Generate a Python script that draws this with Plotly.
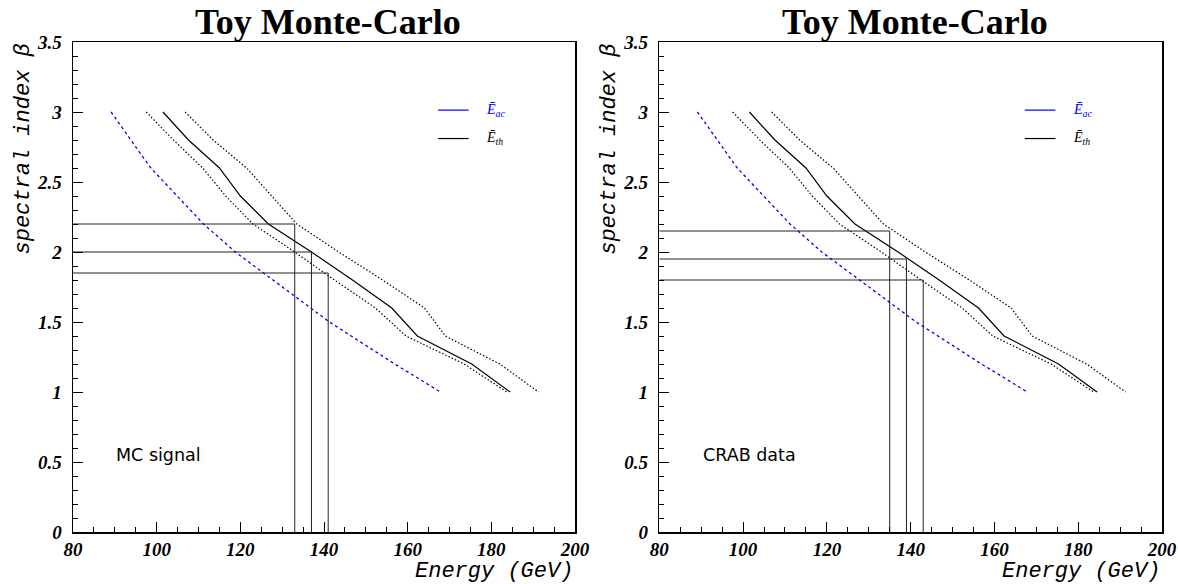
import plotly.graph_objects as go

# ---- data ----
beta_th = [3.0, 2.8, 2.6, 2.4, 2.2, 2.0, 1.8, 1.6, 1.4, 1.2, 1.0]
E_th = [101.5, 107.6, 115.0, 120.0, 126.7, 137.0, 146.8, 156.2, 162.3, 175.3, 184.5]
E_th_low = [97.5, 104.0, 111.0, 116.5, 123.0, 133.0, 142.5, 152.3, 159.6, 173.5, 183.7]
E_th_high = [106.8, 113.5, 121.5, 127.5, 133.5, 143.5, 154.0, 164.0, 169.0, 182.0, 191.3]

beta_ac = [3.0, 2.9, 2.8, 2.7, 2.6, 2.5, 2.4, 2.3, 2.2, 2.1, 2.0,
           1.9, 1.8, 1.7, 1.6, 1.5, 1.4, 1.3, 1.2, 1.1, 1.0]
E_ac = [89.1, 91.4, 93.8, 96.2, 98.6, 101.8, 105.0, 108.1, 111.2, 115.0, 118.8,
        123.3, 127.7, 132.3, 136.8, 141.3, 146.5, 151.6, 156.9, 162.4, 167.8]

mc_cut_E = [133.0, 137.0, 141.0]
mc_cut_beta = [2.2, 2.0, 1.85]
crab_cut_E = [135.0, 139.0, 143.0]
crab_cut_beta = [2.15, 1.95, 1.8]

panel_titles = ["Toy Monte-Carlo", "Toy Monte-Carlo"]
panel_labels = ["MC signal", "CRAB data"]
x_ticks = [80, 100, 120, 140, 160, 180, 200]
x_tick_labels = ["80", "100", "120", "140", "160", "180", "200"]
y_ticks = [0, 0.5, 1, 1.5, 2, 2.5, 3, 3.5]
y_tick_labels = ["0", "0.5", "1", "1.5", "2", "2.5", "3", "3.5"]
x_min, x_max = 80, 200
y_min, y_max = 0, 3.5

fig = go.Figure()

panels = [("x", "y", mc_cut_E, mc_cut_beta), ("x2", "y2", crab_cut_E, crab_cut_beta)]
for xa, ya, cutE, cutB in panels:
    fig.add_trace(go.Scatter(x=E_ac, y=beta_ac, mode="lines", xaxis=xa, yaxis=ya,
                             line=dict(color="#0000ff", width=1.3, dash="3px,3px"),
                             showlegend=False, hoverinfo="skip"))
    fig.add_trace(go.Scatter(x=E_th_low, y=beta_th, mode="lines", xaxis=xa, yaxis=ya,
                             line=dict(color="black", width=1.2, dash="1.5px,2px"),
                             showlegend=False, hoverinfo="skip"))
    fig.add_trace(go.Scatter(x=E_th_high, y=beta_th, mode="lines", xaxis=xa, yaxis=ya,
                             line=dict(color="black", width=1.2, dash="1.5px,2px"),
                             showlegend=False, hoverinfo="skip"))
    fig.add_trace(go.Scatter(x=E_th, y=beta_th, mode="lines", xaxis=xa, yaxis=ya,
                             line=dict(color="black", width=1.2),
                             showlegend=False, hoverinfo="skip"))
    for e, b in zip(cutE, cutB):
        fig.add_trace(go.Scatter(x=[x_min, e, e], y=[b, b, y_min], mode="lines",
                                 xaxis=xa, yaxis=ya,
                                 line=dict(color="#222222", width=1),
                                 showlegend=False, hoverinfo="skip"))

def bi(s):
    return "<b><i>" + s + "</i></b>"

serif = "Liberation Serif, Times New Roman, serif"
tickfont = dict(family=serif, size=19, color="black")
xcommon = dict(range=[x_min, x_max], tickmode="array", tickvals=x_ticks,
               ticktext=[bi(t) for t in x_tick_labels], ticks="inside", ticklen=10,
               tickwidth=1, tickcolor="black", showline=True, linewidth=1.5, linecolor="black",
               mirror=True, showgrid=False, zeroline=False, tickfont=tickfont, automargin=False,
               minor=dict(tickmode="linear", tick0=80, dtick=5, ticks="inside", ticklen=5,
                          tickcolor="black", showgrid=False))
ycommon = dict(range=[y_min, y_max], tickmode="array", tickvals=y_ticks,
               ticktext=[bi(t) for t in y_tick_labels], ticks="inside", ticklen=10,
               tickwidth=1, tickcolor="black", showline=True, linewidth=1.5, linecolor="black",
               mirror=True, showgrid=False, zeroline=False, tickfont=tickfont, automargin=False,
               ticklabelstandoff=6,
               minor=dict(tickmode="linear", tick0=0, dtick=0.1, ticks="inside", ticklen=5,
                          tickcolor="black", showgrid=False))

fig.update_layout(
    width=1178, height=584,
    margin=dict(l=73, r=16, t=42, b=52, autoexpand=False),
    paper_bgcolor="white", plot_bgcolor="white",
    font=dict(family=serif, size=19, color="black"),
    showlegend=False,
    hovermode=False,
    xaxis=dict(domain=[0, 0.461], anchor="y", **xcommon),
    yaxis=dict(domain=[0, 1], anchor="x", **ycommon),
    xaxis2=dict(domain=[0.5384, 1], anchor="y2", **xcommon),
    yaxis2=dict(domain=[0, 1], anchor="x2", **ycommon),
)

ann = []
shapes = []
for i, (xs, ys) in enumerate([("x", "y"), ("x2", "y2")]):
    xd, yd = xs + " domain", ys + " domain"
    ann.append(dict(text="<b>" + panel_titles[i] + "</b>", xref=xd, yref=yd, x=0.508, y=1,
                    yanchor="bottom", xanchor="center", yshift=-2, showarrow=False,
                    font=dict(family=serif, size=36, color="black")))
    ann.append(dict(text="<i>spectral index β</i>", xref=xd, yref=yd, x=0, y=1, xshift=-50,
                    xanchor="center", yanchor="top", textangle=-90, showarrow=False,
                    font=dict(family="Liberation Mono", size=22, color="black")))
    ann.append(dict(text="<i>Energy (GeV)</i>", xref=xd, yref=yd, x=1, y=0, yshift=-39,
                    xanchor="right", yanchor="middle", showarrow=False,
                    font=dict(family="Liberation Mono", size=22, color="black")))
    ann.append(dict(text=panel_labels[i], xref=xd, yref=yd, x=0.082, y=0.157,
                    xanchor="left", yanchor="middle", showarrow=False,
                    font=dict(family="DejaVu Sans", size=17.5, color="black")))
    # legend
    shapes.append(dict(type="line", xref=xd, yref=yd, x0=0.727, x1=0.788, y0=0.861, y1=0.861,
                       line=dict(color="#0000ff", width=1.2)))
    shapes.append(dict(type="line", xref=xd, yref=yd, x0=0.727, x1=0.788, y0=0.803, y1=0.803,
                       line=dict(color="black", width=1.2)))
    ann.append(dict(text="<i>Ē</i><sub><i>ac</i></sub>", xref=xd, yref=yd, x=0.818, y=0.861,
                    xanchor="left", yanchor="middle", showarrow=False,
                    font=dict(family=serif, size=14, color="#0000ff")))
    ann.append(dict(text="<i>Ē</i><sub><i>th</i></sub>", xref=xd, yref=yd, x=0.818, y=0.803,
                    xanchor="left", yanchor="middle", showarrow=False,
                    font=dict(family=serif, size=14, color="black")))

fig.update_layout(annotations=ann, shapes=shapes)
fig.write_html("out.html",
               config={"displayModeBar": False, "staticPlot": True},
               post_script="document.body.style.margin='0';document.body.style.overflow='hidden';")
